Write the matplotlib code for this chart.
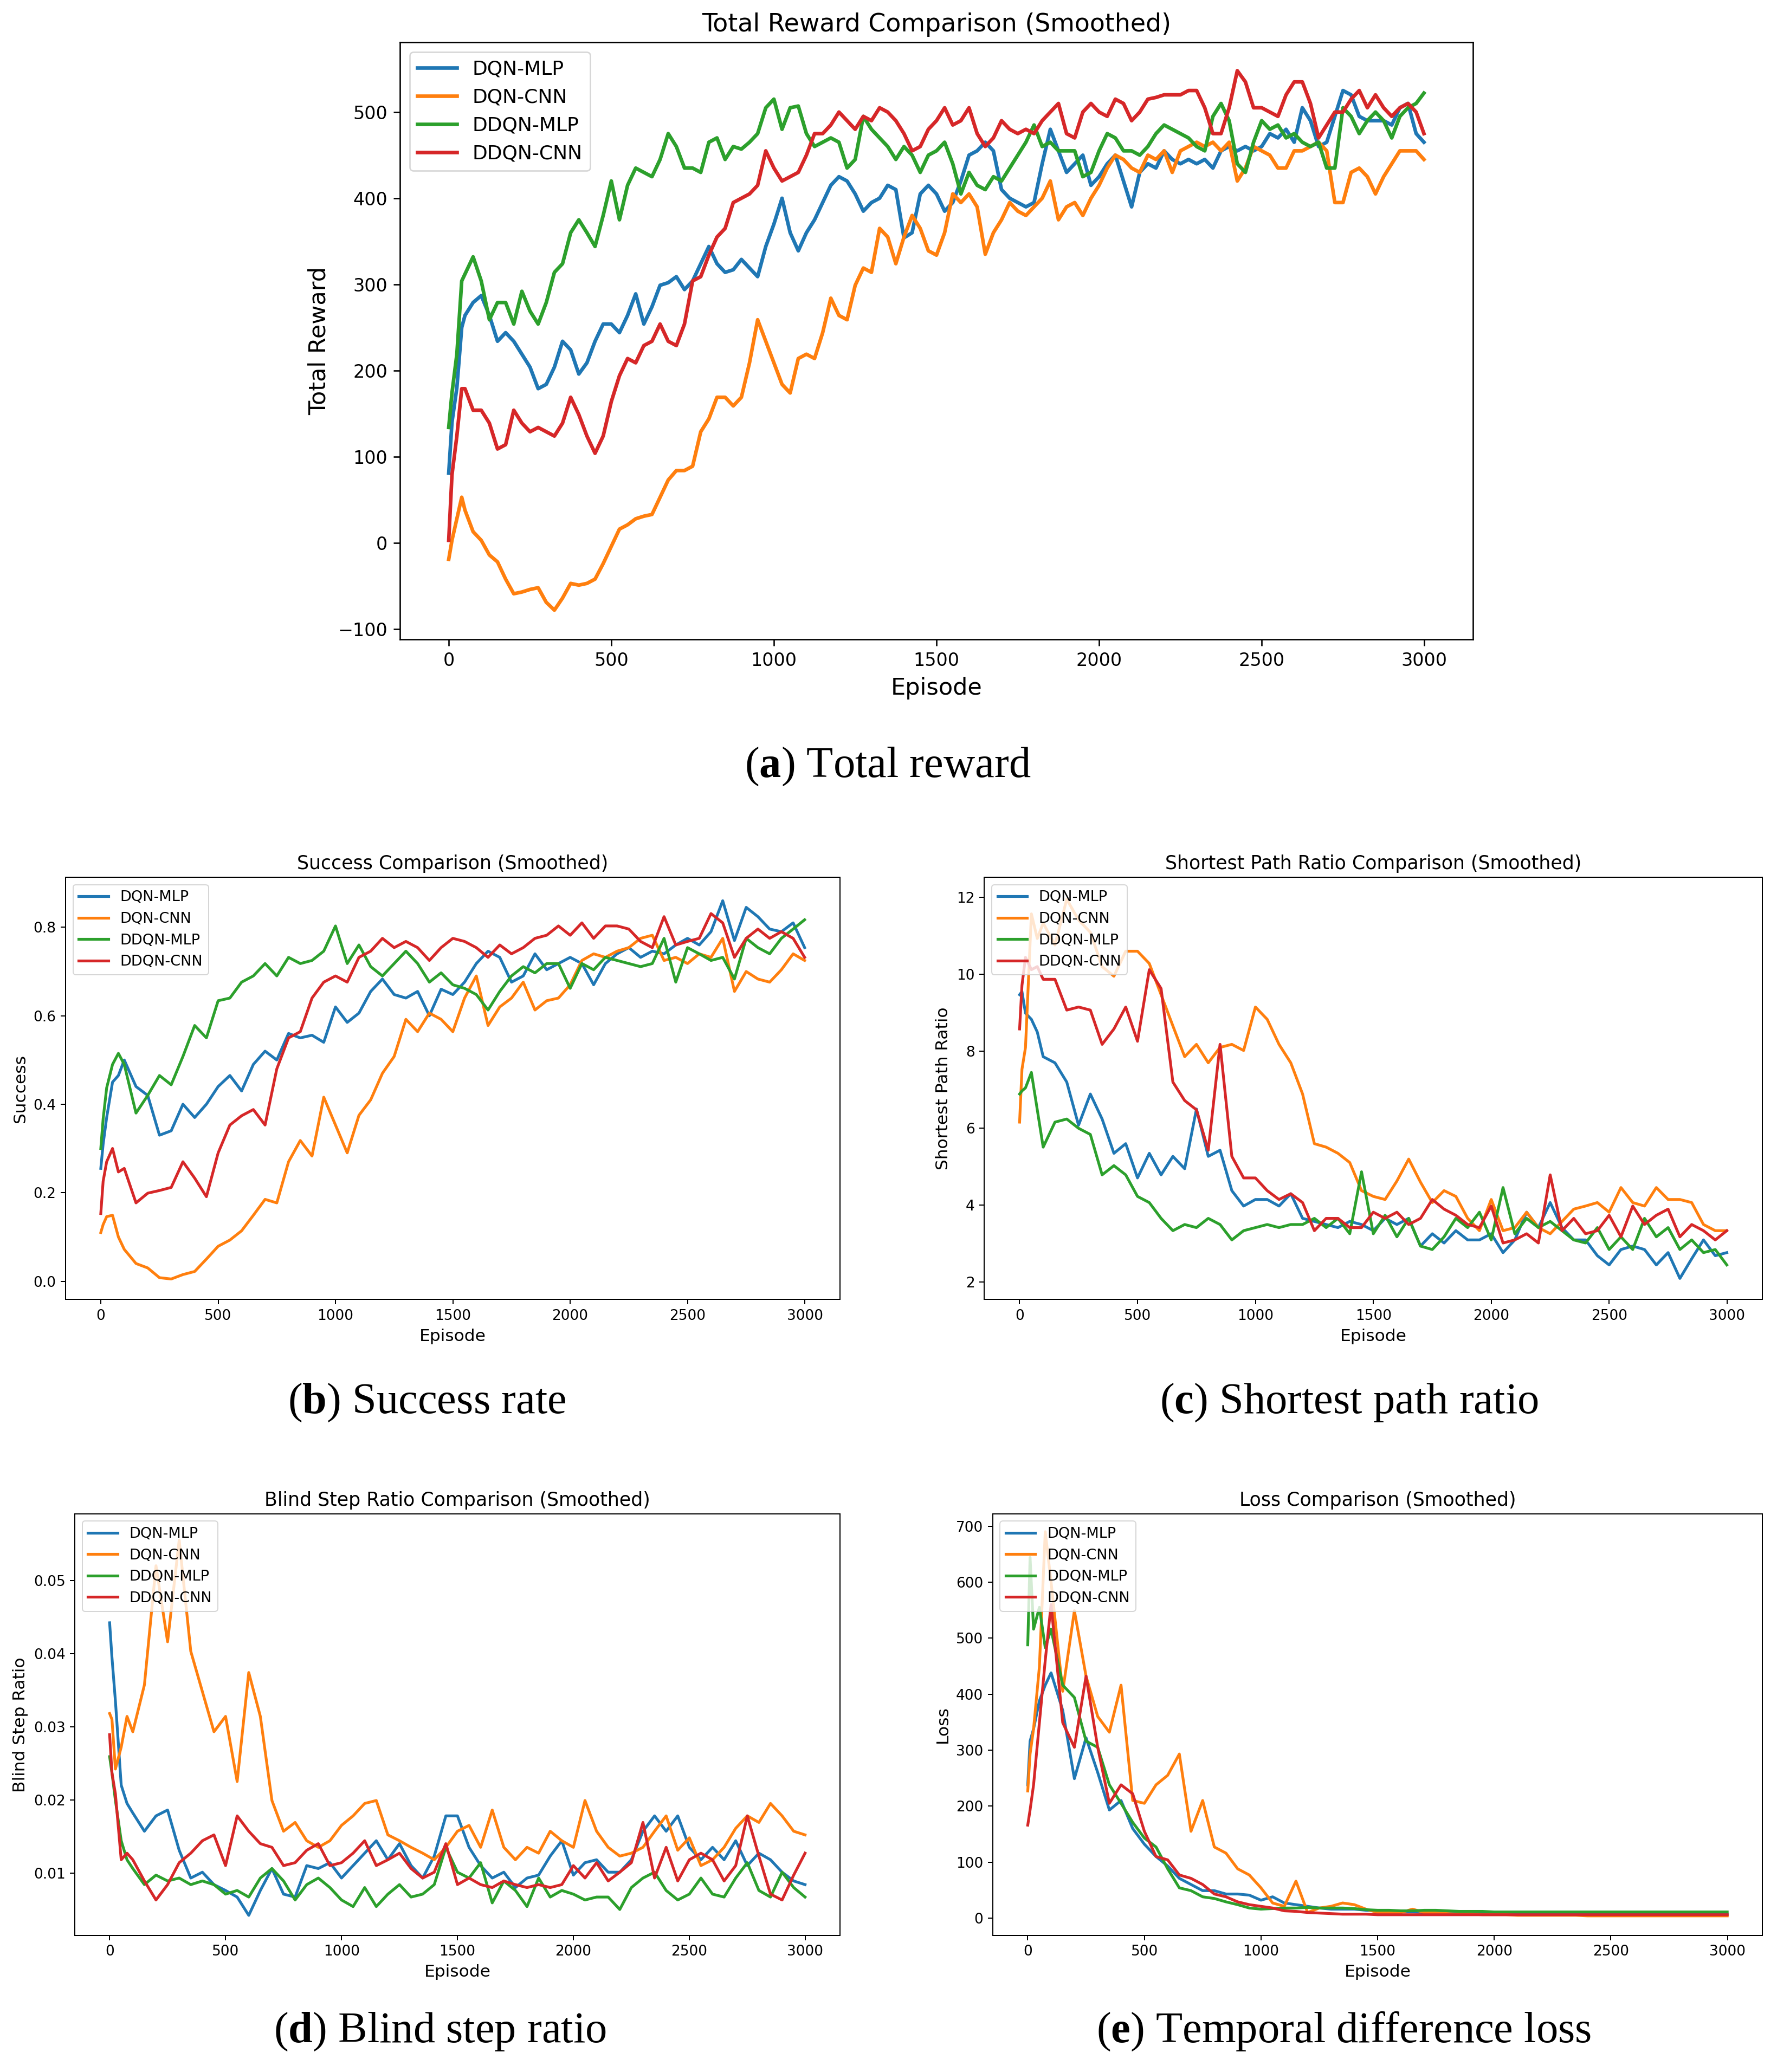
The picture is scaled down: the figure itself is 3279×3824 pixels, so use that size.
import numpy as np
import matplotlib.pyplot as plt

# captions use a serif face, bold letter via mathtext
plt.rcParams['mathtext.fontset'] = 'custom'
plt.rcParams['mathtext.rm'] = 'Liberation Serif'
plt.rcParams['mathtext.bf'] = 'Liberation Serif:bold'

labels = ['DQN-MLP', 'DQN-CNN', 'DDQN-MLP', 'DDQN-CNN']
colors = ['#1f77b4', '#ff7f0e', '#2ca02c', '#d62728']

# episode grids the values were read at
ep_a = [0, 10, 25, 40] + list(range(50, 3000, 25)) + [2999]
ep = [0, 10, 25, 50, 75, 100] + list(range(150, 3000, 50)) + [2999]

# (a) total reward
reward_dqn_mlp = [81, 140, 180, 250,
    264, 279, 287, 264, 234, 244, 234, 219, 204, 179, 184, 204, 234, 224, 196, 209, 234, 254,
    254, 244, 264, 289, 254, 274, 299, 302, 309, 294, 304, 324, 344, 324, 314, 317, 329, 319, 309, 344,
    370, 400, 360, 339, 360, 375, 395, 415, 425, 420, 405, 385, 395, 400, 415, 410, 354, 360, 405, 415,
    405, 385, 395, 420, 450, 455, 465, 455, 410, 400, 395, 390, 395, 440, 480, 455, 430, 440, 450, 415,
    425, 440, 450, 420, 390, 430, 440, 435, 455, 445, 440, 445, 440, 445, 435, 455, 460, 455, 460, 455,
    460, 475, 470, 480, 465, 505, 490, 460, 465, 495, 525, 520, 495, 490, 490, 490, 485, 505, 510, 475,
    465]
reward_dqn_cnn = [-19, 3, 28, 53,
    38, 13, 3, -14, -22, -42, -59, -57, -54, -52, -69, -78, -64, -47, -49, -47, -42, -24,
    -4, 16, 21, 28, 31, 33, 53, 73, 84, 84, 89, 129, 144, 169, 169, 159, 169, 209, 259, 234,
    209, 184, 174, 214, 219, 214, 244, 284, 264, 259, 299, 319, 314, 365, 355, 324, 355, 380, 365, 339,
    334, 360, 405, 395, 405, 390, 335, 360, 375, 395, 385, 380, 390, 400, 420, 375, 390, 395, 380, 400,
    415, 435, 450, 445, 435, 430, 450, 445, 455, 430, 455, 460, 465, 460, 465, 455, 465, 420, 435, 460,
    455, 450, 435, 435, 455, 455, 460, 465, 455, 395, 395, 430, 435, 425, 405, 425, 440, 455, 455, 455,
    445]
reward_ddqn_mlp = [134, 174, 219, 304,
    312, 332, 304, 259, 279, 279, 254, 292, 269, 254, 279, 314, 324, 360, 375, 360, 344, 380,
    420, 375, 415, 435, 430, 425, 445, 475, 460, 435, 435, 430, 465, 470, 445, 460, 457, 465, 475, 505,
    515, 480, 505, 507, 475, 460, 465, 470, 465, 435, 445, 495, 480, 470, 460, 445, 460, 450, 430, 450,
    455, 465, 440, 405, 430, 415, 410, 425, 420, 435, 450, 465, 485, 460, 465, 455, 455, 455, 425, 430,
    455, 475, 470, 455, 455, 450, 460, 475, 485, 480, 475, 470, 460, 455, 495, 510, 490, 440, 430, 465,
    490, 480, 485, 470, 475, 465, 460, 465, 435, 435, 505, 495, 475, 490, 500, 490, 470, 495, 505, 510,
    522]
reward_ddqn_cnn = [3, 79, 124, 179,
    179, 154, 154, 139, 109, 114, 154, 139, 129, 134, 129, 124, 139, 169, 149, 124, 104, 124,
    164, 194, 214, 209, 229, 234, 254, 234, 229, 254, 304, 309, 334, 355, 365, 395, 400, 405, 415, 455,
    435, 420, 425, 430, 450, 475, 475, 485, 500, 490, 480, 495, 490, 505, 500, 490, 475, 455, 460, 480,
    490, 505, 485, 490, 505, 475, 460, 470, 490, 480, 475, 480, 475, 490, 500, 510, 475, 470, 500, 510,
    500, 495, 515, 510, 490, 500, 515, 517, 520, 520, 520, 525, 525, 505, 475, 475, 505, 548, 535, 505,
    505, 500, 495, 520, 535, 535, 510, 470, 485, 500, 500, 515, 525, 505, 520, 505, 495, 505, 510, 500,
    475]

# (b) success rate
succ_dqn_mlp = [0.255, 0.31, 0.37, 0.45, 0.465, 0.50,
    0.44, 0.42, 0.33, 0.34, 0.40, 0.37, 0.40, 0.44, 0.465, 0.43,
    0.49, 0.52, 0.50, 0.56, 0.55, 0.556, 0.54, 0.62, 0.585, 0.606,
    0.655, 0.683, 0.648, 0.64, 0.655, 0.60, 0.66, 0.648, 0.676, 0.718,
    0.746, 0.732, 0.676, 0.69, 0.74, 0.704, 0.718, 0.732, 0.718, 0.67,
    0.718, 0.74, 0.754, 0.732, 0.746, 0.74, 0.76, 0.775, 0.76, 0.79,
    0.86, 0.77, 0.845, 0.824, 0.796, 0.79, 0.81,
    0.754]
succ_dqn_cnn = [0.11, 0.128, 0.146, 0.149, 0.10, 0.072,
    0.04, 0.03, 0.008, 0.005, 0.015, 0.022, 0.05, 0.079, 0.093, 0.114,
    0.149, 0.185, 0.177, 0.27, 0.318, 0.283, 0.416, 0.353, 0.29, 0.375,
    0.41, 0.47, 0.508, 0.592, 0.564, 0.606, 0.592, 0.564, 0.64, 0.69,
    0.578, 0.62, 0.64, 0.676, 0.613, 0.634, 0.64, 0.67, 0.725, 0.74,
    0.732, 0.746, 0.754, 0.775, 0.782, 0.725, 0.732, 0.718, 0.74, 0.732,
    0.775, 0.655, 0.70, 0.683, 0.676, 0.704, 0.74,
    0.725]
succ_ddqn_mlp = [0.30, 0.367, 0.437, 0.49, 0.515, 0.49,
    0.38, 0.42, 0.465, 0.444, 0.508, 0.578, 0.55, 0.634, 0.64, 0.676,
    0.69, 0.718, 0.69, 0.732, 0.718, 0.725, 0.746, 0.803, 0.718, 0.76,
    0.711, 0.69, 0.718, 0.746, 0.718, 0.676, 0.697, 0.67, 0.662, 0.648,
    0.613, 0.655, 0.69, 0.711, 0.697, 0.718, 0.718, 0.662, 0.718, 0.704,
    0.732, 0.725, 0.718, 0.711, 0.718, 0.775, 0.676, 0.754, 0.74, 0.725,
    0.732, 0.683, 0.775, 0.754, 0.74, 0.775, 0.796,
    0.817]
succ_ddqn_cnn = [0.153, 0.226, 0.27, 0.30, 0.247, 0.255,
    0.177, 0.199, 0.205, 0.212, 0.27, 0.233, 0.191, 0.29, 0.353, 0.374,
    0.388, 0.353, 0.48, 0.55, 0.564, 0.64, 0.676, 0.69, 0.676, 0.732,
    0.746, 0.775, 0.754, 0.768, 0.754, 0.725, 0.754, 0.775, 0.768, 0.754,
    0.732, 0.76, 0.74, 0.754, 0.775, 0.782, 0.803, 0.782, 0.81, 0.775,
    0.803, 0.803, 0.796, 0.768, 0.754, 0.824, 0.76, 0.768, 0.775, 0.831,
    0.81, 0.732, 0.775, 0.796, 0.775, 0.79, 0.775,
    0.732]

# (c) shortest path ratio
spr_dqn_mlp = [9.47, 9.55, 8.99, 8.83, 8.5, 7.86,
    7.7, 7.2, 6.08, 6.89, 6.24, 5.35, 5.6, 4.71, 5.35, 4.79,
    5.27, 4.95, 6.5, 5.27, 5.43, 4.38, 3.98, 4.15, 4.15, 3.98,
    4.3, 3.66, 3.58, 3.5, 3.42, 3.58, 3.5, 3.34, 3.66, 3.5,
    3.66, 2.94, 3.26, 3.02, 3.34, 3.1, 3.1, 3.26, 2.77, 3.1,
    3.82, 3.42, 4.07, 3.42, 3.1, 3.1, 2.69, 2.45, 2.85, 2.94,
    2.85, 2.45, 2.77, 2.1, 2.61, 3.1, 2.69,
    2.77]
spr_dqn_cnn = [6.16, 7.53, 8.1, 11.57, 10.93, 11.33,
    10.76, 11.95, 11.41, 11.09, 10.2, 9.95, 10.6, 10.6, 10.28, 9.47,
    8.66, 7.86, 8.18, 7.7, 8.1, 8.18, 8.02, 9.15, 8.83, 8.18,
    7.7, 6.89, 5.6, 5.51, 5.35, 5.11, 4.38, 4.23, 4.15, 4.63,
    5.2, 4.6, 4.07, 4.38, 4.23, 3.66, 3.34, 4.15, 3.34, 3.42,
    3.82, 3.42, 3.26, 3.58, 3.9, 3.98, 4.07, 3.82, 4.46, 4.07,
    3.98, 4.46, 4.15, 4.15, 4.07, 3.5, 3.34,
    3.34]
spr_ddqn_mlp = [6.89, 6.97, 7.05, 7.45, 6.48, 5.51,
    6.16, 6.24, 6.0, 5.84, 4.79, 5.03, 4.79, 4.23, 4.07, 3.66,
    3.34, 3.5, 3.42, 3.66, 3.5, 3.1, 3.34, 3.42, 3.5, 3.42,
    3.5, 3.5, 3.66, 3.42, 3.66, 3.26, 4.87, 3.26, 3.74, 3.18,
    3.66, 2.94, 2.85, 3.18, 3.66, 3.42, 3.82, 3.1, 4.46, 3.26,
    3.66, 3.42, 3.58, 3.34, 3.1, 3.02, 3.42, 2.85, 3.18, 2.85,
    3.66, 3.18, 3.42, 2.85, 3.1, 2.77, 2.85,
    2.45]
spr_ddqn_cnn = [8.58, 9.71, 10.44, 10.12, 10.2, 9.87,
    9.87, 9.07, 9.15, 9.07, 8.18, 8.58, 9.15, 8.26, 10.12, 9.63,
    7.2, 6.72, 6.48, 5.43, 8.18, 5.27, 4.71, 4.71, 4.38, 4.15,
    4.3, 4.07, 3.34, 3.66, 3.66, 3.42, 3.42, 3.82, 3.66, 3.82,
    3.5, 3.66, 4.15, 3.9, 3.74, 3.5, 3.42, 3.98, 3.02, 3.1,
    3.26, 3.02, 4.79, 3.34, 3.66, 3.26, 3.34, 3.74, 3.18, 3.98,
    3.5, 3.74, 3.9, 3.18, 3.5, 3.34, 3.1,
    3.34]

# (d) blind step ratio
bsr_dqn_mlp = [0.0442, 0.0395, 0.0335, 0.022, 0.0195, 0.0182,
    0.0157, 0.0178, 0.0186, 0.0131, 0.0093, 0.0101, 0.0084, 0.0076, 0.0067, 0.0042,
    0.0076, 0.0106, 0.0071, 0.0067, 0.011, 0.0106, 0.0114, 0.0093, 0.011, 0.0127,
    0.0144, 0.0118, 0.014, 0.011, 0.0093, 0.0123, 0.0178, 0.0178, 0.0135, 0.011,
    0.0093, 0.0101, 0.008, 0.0093, 0.0097, 0.0123, 0.0144, 0.0097, 0.0114, 0.0118,
    0.0101, 0.0101, 0.0118, 0.0157, 0.0178, 0.0157, 0.0178, 0.0135, 0.0118, 0.0135,
    0.0118, 0.0144, 0.011, 0.0127, 0.0118, 0.0101, 0.0089,
    0.0084]
bsr_dqn_cnn = [0.0318, 0.031, 0.0242, 0.0272, 0.0314, 0.0293,
    0.0357, 0.052, 0.0416, 0.0555, 0.0403, 0.0348, 0.0293, 0.0314, 0.0225, 0.0374,
    0.0314, 0.0199, 0.0157, 0.0169, 0.0144, 0.0135, 0.0144, 0.0165, 0.0178, 0.0195,
    0.0199, 0.0152, 0.0144, 0.0135, 0.0127, 0.0118, 0.0135, 0.0157, 0.0165, 0.0135,
    0.0186, 0.0135, 0.0118, 0.0135, 0.0127, 0.0157, 0.0144, 0.0135, 0.0199, 0.0157,
    0.0135, 0.0123, 0.0127, 0.0135, 0.0157, 0.0178, 0.0131, 0.0148, 0.011, 0.0118,
    0.0135, 0.0161, 0.0178, 0.0169, 0.0195, 0.0178, 0.0157,
    0.0152]
bsr_ddqn_mlp = [0.0259, 0.0237, 0.0199, 0.0144, 0.0118, 0.0106,
    0.0084, 0.0097, 0.0089, 0.0093, 0.0084, 0.0089, 0.0084, 0.0071, 0.0076, 0.0067,
    0.0093, 0.0106, 0.0089, 0.0063, 0.0084, 0.0093, 0.008, 0.0063, 0.0054, 0.008,
    0.0054, 0.0071, 0.0084, 0.0067, 0.0071, 0.0084, 0.0135, 0.0101, 0.0093, 0.0114,
    0.0059, 0.0089, 0.0076, 0.0054, 0.0093, 0.0067, 0.0076, 0.0071, 0.0063, 0.0067,
    0.0067, 0.005, 0.008, 0.0093, 0.0101, 0.0076, 0.0063, 0.0071, 0.0093, 0.0071,
    0.0067, 0.0093, 0.0114, 0.0076, 0.0067, 0.0101, 0.008,
    0.0067]
bsr_ddqn_cnn = [0.0289, 0.0237, 0.0208, 0.0118, 0.0127, 0.0118,
    0.0089, 0.0063, 0.0084, 0.0114, 0.0127, 0.0144, 0.0152, 0.011, 0.0178, 0.0157,
    0.014, 0.0135, 0.011, 0.0114, 0.0131, 0.014, 0.011, 0.0114, 0.0127, 0.0144,
    0.011, 0.0118, 0.0127, 0.0106, 0.0093, 0.0101, 0.014, 0.0084, 0.0093, 0.0084,
    0.008, 0.0089, 0.0084, 0.008, 0.0084, 0.008, 0.0084, 0.011, 0.0093, 0.0114,
    0.0089, 0.0101, 0.0114, 0.0169, 0.0093, 0.0135, 0.0089, 0.0118, 0.0127, 0.0118,
    0.0089, 0.011, 0.0178, 0.0123, 0.0071, 0.0063, 0.0097,
    0.0127]

# (e) temporal difference loss
loss_dqn_mlp = [238, 316, 338, 388, 416, 438,
    371, 249, 322, 260, 193, 210, 160, 132, 110, 93,
    71, 60, 49, 49, 43, 43, 41, 32, 38, 27,
    24, 21, 18, 16, 16, 16, 14, 13, 12, 11,
    11, 10, 10, 10, 9, 9, 9, 9, 9, 8,
    8, 8, 8, 8, 8, 7, 7, 7, 7, 7,
    7, 7, 7, 7, 7, 7, 7,
    7]
loss_dqn_cnn = [227, 293, 338, 449, 690, 600,
    405, 549, 432, 360, 332, 416, 210, 205, 238, 255,
    293, 155, 210, 127, 116, 88, 77, 54, 27, 21,
    66, 10, 18, 21, 27, 24, 16, 10, 10, 10,
    16, 10, 9, 8, 7, 7, 6, 6, 6, 5,
    5, 5, 5, 5, 5, 4, 4, 4, 4, 4,
    4, 4, 4, 4, 4, 4, 4,
    4]
loss_ddqn_mlp = [488, 644, 516, 555, 483, 516,
    416, 394, 316, 305, 238, 205, 171, 143, 127, 88,
    54, 49, 38, 35, 29, 24, 18, 16, 17, 18,
    18, 19, 18, 18, 18, 17, 15, 14, 14, 13,
    13, 14, 14, 13, 12, 12, 12, 11, 11, 11,
    11, 11, 11, 11, 11, 11, 11, 11, 11, 11,
    11, 11, 11, 11, 11, 11, 11,
    11]
loss_ddqn_cnn = [166, 193, 238, 349, 460, 560,
    349, 305, 432, 305, 205, 238, 222, 155, 110, 104,
    77, 71, 60, 43, 38, 29, 24, 21, 18, 13,
    12, 10, 9, 8, 7, 7, 7, 6, 6, 6,
    6, 6, 6, 6, 6, 6, 6, 6, 6, 6,
    6, 6, 6, 6, 6, 6, 6, 6, 6, 6,
    6, 6, 6, 6, 6, 6, 6,
    6]


def panel(rect, x, series, title, ylabel, ylim, s, fs, lbfs, tfs, lw, lfs):
    ax = fig.add_axes(rect)
    for y, lab, c in zip(series, labels, colors):
        ax.plot(x, y, color=c, lw=lw, label=lab)
    ax.set_xlim(-150, 3150)
    ax.set_ylim(ylim)
    ax.set_title(title, fontsize=tfs, pad=6 * s)
    ax.set_xlabel('Episode', fontsize=lbfs, labelpad=4 * s)
    ax.set_ylabel(ylabel, fontsize=lbfs, labelpad=4 * s)
    ax.tick_params(labelsize=fs, length=3.5 * s, width=0.8 * s, pad=3.5 * s)
    for sp in ax.spines.values():
        sp.set_linewidth(0.8 * s)
    leg = ax.legend(loc='upper left', fontsize=lfs)
    leg.get_frame().set_linewidth(0.8 * s)
    return ax


fig = plt.figure(figsize=(32.8, 38.24), dpi=100)

panel([0.225, 0.6914, 0.6037, 0.2882], ep_a,
      [reward_dqn_mlp, reward_dqn_cnn, reward_ddqn_mlp, reward_ddqn_cnn],
      'Total Reward Comparison (Smoothed)', 'Total Reward', (-112, 581),
      2.37, 24, 31, 33, 4.8, 26)
panel([0.0369, 0.3729, 0.4357, 0.2037], ep,
      [succ_dqn_mlp, succ_dqn_cnn, succ_ddqn_mlp, succ_ddqn_cnn],
      'Success Comparison (Smoothed)', 'Success', (-0.041, 0.913),
      1.8, 19, 22.5, 25, 3.7, 19.5)
panel([0.5537, 0.3729, 0.4378, 0.2037], ep,
      [spr_dqn_mlp, spr_dqn_cnn, spr_ddqn_mlp, spr_ddqn_cnn],
      'Shortest Path Ratio Comparison (Smoothed)', 'Shortest Path Ratio', (1.556, 12.52),
      1.8, 19, 22.5, 25, 3.7, 19.5)
panel([0.0421, 0.0659, 0.4305, 0.2035], ep,
      [bsr_dqn_mlp, bsr_dqn_cnn, bsr_ddqn_mlp, bsr_ddqn_cnn],
      'Blind Step Ratio Comparison (Smoothed)', 'Blind Step Ratio', (0.00145, 0.0591),
      1.8, 19, 22.5, 25, 3.7, 19.5)
panel([0.5585, 0.0659, 0.433, 0.2035], ep,
      [loss_dqn_mlp, loss_dqn_cnn, loss_ddqn_mlp, loss_ddqn_cnn],
      'Loss Comparison (Smoothed)', 'Loss', (-31, 722),
      1.8, 19, 22.5, 25, 3.7, 19.5)

# sub-figure captions
cap = dict(ha='center', va='baseline', fontsize=58, family='Liberation Serif')
fig.text(0.4994, 0.625, r'($\mathbf{a}$) Total reward', **cap)
fig.text(0.240, 0.318, r'($\mathbf{b}$) Success rate', **cap)
fig.text(0.759, 0.318, r'($\mathbf{c}$) Shortest path ratio', **cap)
fig.text(0.2475, 0.0144, r'($\mathbf{d}$) Blind step ratio', **cap)
fig.text(0.756, 0.0144, r'($\mathbf{e}$) Temporal difference loss', **cap)

fig.savefig('out.png', dpi=100)
